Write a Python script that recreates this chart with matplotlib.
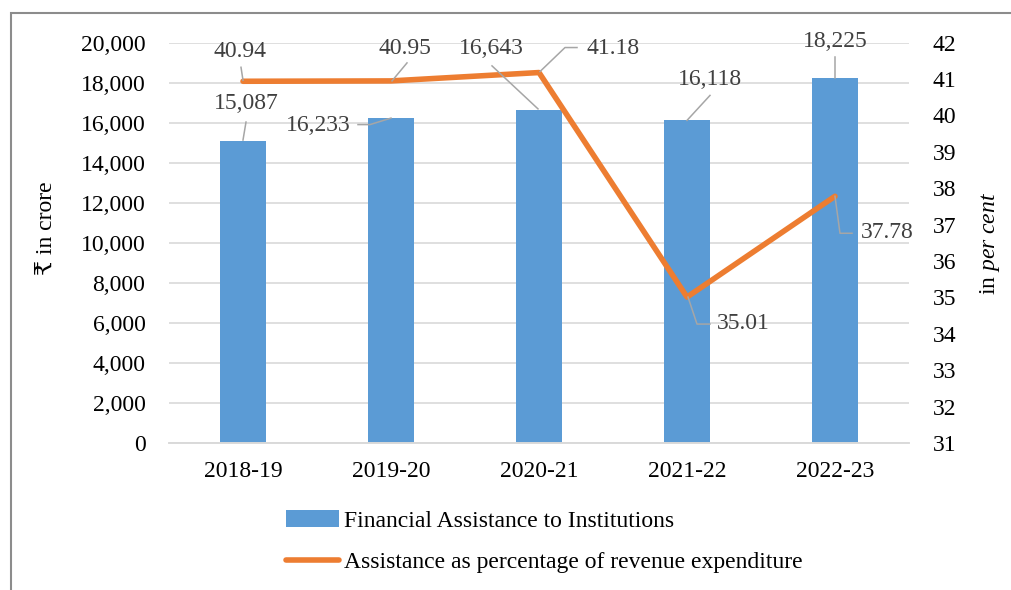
import matplotlib
matplotlib.use("Agg")
import matplotlib.pyplot as plt
import matplotlib.transforms as mtransforms
from matplotlib.patches import Rectangle
from matplotlib.lines import Line2D

plt.rcParams['font.family'] = ['Liberation Serif', 'DejaVu Serif', 'DejaVu Sans']
plt.rcParams['mathtext.fontset'] = 'custom'
plt.rcParams['mathtext.rm'] = 'Liberation Serif'
plt.rcParams['mathtext.it'] = 'Liberation Serif:italic'

years = ["2018-19", "2019-20", "2020-21", "2021-22", "2022-23"]
assistance = [15087, 16233, 16643, 16118, 18225]
pct_rev_exp = [40.94, 40.95, 41.18, 35.01, 37.78]

blue = "#5B9BD5"
orange = "#ED7D31"
grid_col = "#D9D9D9"
lbl_col = "#404040"
lead_col = "#A6A6A6"
fs = 17

fig = plt.figure(figsize=(10.11, 5.9), dpi=100)
ax = fig.add_axes([169 / 1011, 1 - 443 / 590, 740 / 1011, 400.3 / 590])
ax2 = ax.twinx()

x = list(range(len(years)))
bars = ax.bar(x, assistance, width=0.31, color=blue, zorder=2,
              label="Financial Assistance to Institutions")
line, = ax2.plot(x, pct_rev_exp, color=orange, lw=4, solid_capstyle='round',
                 label="Assistance as percentage of revenue expenditure")

ax.set_xlim(-0.5, len(years) - 0.5)
ax.set_ylim(0, 20000)
ax.set_yticks(range(0, 20001, 2000))
ax.set_yticklabels([f"{v:,}" for v in range(0, 20001, 2000)])
ax2.set_ylim(31, 42)
ax2.set_yticks(range(31, 43))
ax.set_xticks(x)
ax.set_xticklabels(years)

ax.yaxis.grid(True, color=grid_col, lw=1.2, zorder=0)
ax.set_axisbelow(True)
for a in (ax, ax2):
    for side in ("top", "left", "right"):
        a.spines[side].set_visible(False)
    a.spines["bottom"].set_color(grid_col)
    a.spines["bottom"].set_linewidth(1.2)
    a.tick_params(length=0, labelsize=fs, colors="black")
ax.tick_params(axis="y", pad=17)
ax2.tick_params(axis="y", pad=17)
ax.tick_params(axis="x", pad=13)

fig.text(46 / 1011, 1 - 228 / 590, "₹ in crore", rotation=90, fontsize=fs,
         ha="center", va="center")
fig.text(990 / 1011, 1 - 243 / 590, r"in $\it{per\ cent}$", rotation=90,
         fontsize=fs, ha="center", va="center")


def data_label(a, xv, yv, text, txt_off, leader):
    # offsets are in pixels from the data point (y up)
    fig.canvas.draw()
    px, py = a.transData.transform((xv, yv))
    a.text(px + txt_off[0], py + txt_off[1], text, transform=mtransforms.IdentityTransform(),
           fontsize=fs, color=lbl_col, ha="center", va="center", zorder=5, clip_on=False)
    xs = [px + dx for dx, dy in leader]
    ys = [py + dy for dx, dy in leader]
    fig.add_artist(Line2D(xs, ys, color=lead_col, lw=1.1,
                          transform=mtransforms.IdentityTransform(), zorder=4))


bar_txt = [(3, 38), (-73, -7.5), (-48, 61), (23, 41), (0, 37)]
bar_lead = [[(3, 19), (0, 1)],
            [(-33, -6.5), (-21, -6.5), (0, 0)],
            [(-47, 44), (-1, 1)],
            [(23, 25), (0, 0)],
            [(0, 21), (0, 0)]]
for i, v in enumerate(assistance):
    data_label(ax, x[i], v, f"{v:,}", bar_txt[i], bar_lead[i])

line_txt = [(-3, 30), (14, 32), (74, 24), (56, -26), (52, -36)]
line_lead = [[(-2, 14), (0, 1)],
             [(16, 18), (1, 0)],
             [(1, 1), (26, 25), (38, 25)],
             [(1, 0), (10, -27), (23, -27)],
             [(0, 0), (5, -37), (17, -37)]]
for i, v in enumerate(pct_rev_exp):
    data_label(ax2, x[i], v, f"{v:.2f}", line_txt[i], line_lead[i])

fig.legend(handles=[bars, line], loc="upper left",
           bbox_to_anchor=(265 / 1011, 1 - 489 / 590), frameon=False,
           fontsize=fs, handlelength=2.25, handletextpad=0.2, labelspacing=0.85)

# outer frame
fig.add_artist(Rectangle((11 / 1011, -0.1), 1.2, 1 - 13 / 590 + 0.1,
                         transform=fig.transFigure, fill=False,
                         edgecolor="#8C8C8C", lw=1.5))

fig.savefig("out.png", dpi=100)
